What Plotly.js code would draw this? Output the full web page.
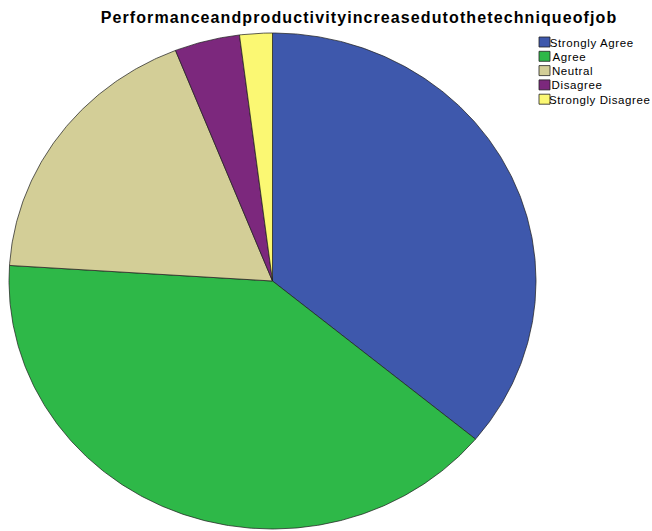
<!DOCTYPE html>
<html>
<head>
<meta charset="utf-8">
<script src="https://cdn.plot.ly/plotly-3.0.1.min.js"></script>
<style>
  html, body { margin: 0; padding: 0; background: #fff; }
  #chart { width: 652px; height: 531px; }
  #chart .gtitle { letter-spacing: 1.1px; }
  #chart .annotation-text { letter-spacing: 0.6px; }
</style>
</head>
<body>
<div id="chart"></div>
<script>
// Responses to "Performance and productivity increase due to the technique of job"
const categories = ['Strongly Agree', 'Agree', 'Neutral', 'Disagree', 'Strongly Disagree'];
const counts = [18, 20, 9, 2, 1];
const colors = ['#3E58AC', '#2EB848', '#D3CE97', '#7C287D', '#FBF873'];
const chartTitle = 'Performanceandproductivityincreasedutothetechniqueofjob';

const W = 652, H = 531;
// Ellipse placement in pixels (the pie is drawn slightly wider than tall)
const cx = 272.5, cy = 281, rx = 263.5, ry = 248;

const total = counts.reduce((a, b) => a + b, 0);

// Each slice is a closed wedge on a unit circle; the axis ranges stretch it to the ellipse.
const traces = [];
let cum = 0;
counts.forEach((v, i) => {
  const frac = v / total;
  const a0 = Math.PI / 2 - cum * 2 * Math.PI;       // start at 12 o'clock
  const a1 = a0 - frac * 2 * Math.PI;               // go clockwise
  const steps = Math.max(8, Math.ceil(frac * 720));
  const xs = [0], ys = [0];
  for (let k = 0; k <= steps; k++) {
    const a = a0 + (a1 - a0) * k / steps;
    xs.push(Math.cos(a));
    ys.push(Math.sin(a));
  }
  xs.push(0); ys.push(0);
  traces.push({
    type: 'scatter',
    mode: 'lines',
    x: xs, y: ys,
    fill: 'toself',
    fillcolor: colors[i],
    line: { color: 'rgba(30,30,30,0.8)', width: 0.9 },
    name: categories[i],
    text: categories[i] + ': ' + v,
    hoverinfo: 'text',
    showlegend: false
  });
  cum += frac;
});

// Legend drawn as swatches + labels in paper coordinates
const shapes = [];
const annotations = [];
const legX = 539, legY = 37, legStep = 14.3, swW = 11, swH = 10;
categories.forEach((c, i) => {
  const top = legY + i * legStep;
  shapes.push({
    type: 'rect', xref: 'paper', yref: 'paper',
    x0: legX / W, x1: (legX + swW) / W,
    y0: 1 - (top + swH) / H, y1: 1 - top / H,
    fillcolor: colors[i],
    line: { color: '#222', width: 0.8 }
  });
  annotations.push({
    xref: 'paper', yref: 'paper',
    x: (legX + swW + 2) / W, y: 1 - (top + swH / 2 + 0.5) / H,
    xanchor: 'left', yanchor: 'middle',
    text: c, showarrow: false,
    font: { family: 'Liberation Sans, Arial, sans-serif', size: 11.5, color: '#000' }
  });
});

const layout = {
  width: W, height: H,
  margin: { l: 0, r: 0, t: 0, b: 0 },
  paper_bgcolor: '#fff',
  plot_bgcolor: '#fff',
  showlegend: false,
  title: {
    text: chartTitle,
    x: 359 / W, xanchor: 'center',
    y: 1 - 17.5 / H, yanchor: 'middle',
    font: { family: 'Liberation Sans, Arial, sans-serif', size: 16, weight: 700, color: '#000' }
  },
  xaxis: {
    visible: false, fixedrange: true,
    range: [(0 - cx) / rx, (W - cx) / rx]
  },
  yaxis: {
    visible: false, fixedrange: true,
    range: [(cy - H) / ry, cy / ry]
  },
  shapes: shapes,
  annotations: annotations
};

Plotly.newPlot('chart', traces, layout, { displayModeBar: false, staticPlot: true });
</script>
</body>
</html>
